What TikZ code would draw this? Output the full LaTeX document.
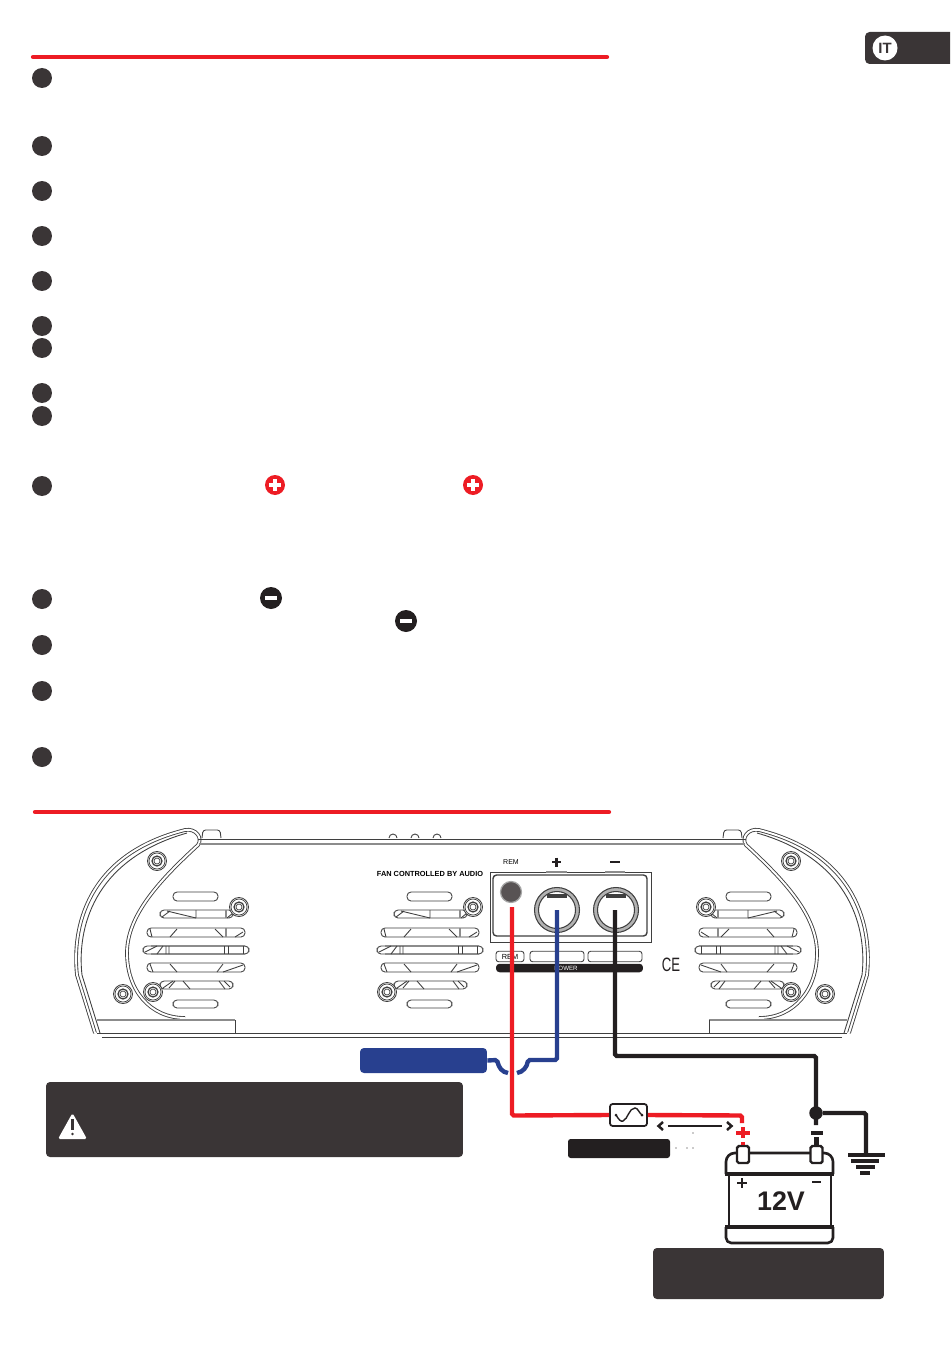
\documentclass[tikz,border=0pt]{standalone}
\usepackage{fontspec}
\setmainfont{Liberation Sans}
\usepackage{tikz}
\definecolor{ampred}{HTML}{ED1C24}
\definecolor{ampblue}{HTML}{28408F}
\definecolor{ampdark}{HTML}{3A3536}
\definecolor{ampblack}{HTML}{231F20}
\definecolor{ampline}{HTML}{3F3F3F}
\tikzset{
  bullet/.style={circle,fill=ampdark,minimum size=0.4cm,inner sep=0pt},
  plusmark/.style={circle,fill=ampred,minimum size=0.4cm,inner sep=0pt},
  minusmark/.style={circle,fill=ampblack,minimum size=0.44cm,inner sep=0pt},
  markbar/.style={white,line width=1.8pt},
  rule/.style={ampred,line width=2.4pt,line cap=round},
  hull/.style={ampline,line width=0.5pt},
  hullgray/.style={black!45,line width=0.9pt},
  darkbox/.style={fill=ampdark,rounded corners=2.2pt,inner sep=0pt},
  blackbox/.style={fill=ampblack,rounded corners=1.5pt,inner sep=0pt},
  labelbox/.style={draw=ampline,line width=0.5pt,rounded corners=1.5pt,inner sep=0pt,minimum height=0.21cm},
  socket/.style={circle,fill=black!30,draw=ampline,line width=0.6pt,minimum size=0.9cm,inner sep=0pt},
  redwire/.style={ampred,line width=2.5pt,rounded corners=1pt},
  bluewire/.style={ampblue,line width=2.5pt,rounded corners=1pt},
  blackwire/.style={ampblack,line width=2.5pt,rounded corners=1pt},
  batt/.style={ampblack,line width=1.5pt,line join=round},
  terminal/.style={draw=ampblack,fill=white,line width=1.4pt,rounded corners=1pt,minimum width=0.24cm,minimum height=0.34cm,inner sep=0pt},
  gndbar/.style={fill=ampblack,minimum height=0.07cm,inner sep=0pt},
  pics/screw/.style={code={
    \draw [ampline,line width=0.5pt,fill=white] (0,0) circle (9.5);
    \draw [ampline,line width=0.4pt] (0,0) circle (8);
    \draw [ampline,line width=0.7pt] (0,0) circle (5);
    \draw [ampline,line width=0.4pt] (0,0) circle (3);
  }},
  pics/ventgroup/.style={code={
    \draw [hull,rounded corners=2.3pt] (-23,58) rectangle (22,49);
    \draw [hull,rounded corners=2.3pt] (-36,40) rectangle (37,32);
    \draw [hull,rounded corners=2.3pt] (-49,22) rectangle (49,13);
    \draw [hull,rounded corners=2.3pt] (-53,4) rectangle (53,-4);
    \draw [hullgray] (-45,4) -- (49,4);
    \draw [hullgray] (-45,-4) -- (49,-4);
    \draw [hull,rounded corners=2.3pt] (-49,-13) rectangle (49,-22);
    \draw [hull,rounded corners=2.3pt] (-36,-31) rectangle (37,-39);
    \draw [hull,rounded corners=2.3pt] (-23,-50) rectangle (22,-58);
    \draw [hull] (-34,33) -- (-26,39) (-29,39) -- (0,32) (0,40) -- (0,32) (31,32) -- (37,37);
    \draw [hullgray] (30,40) -- (30,32);
    \draw [hull] (-46,21) -- (-44,13) (-26,13) -- (-19,21) (19,21) -- (27,13) (39,13) -- (47,18);
    \draw [hullgray] (30,22) -- (30,13);
    \draw [hull] (-51,-2) -- (-39,4) (-39,-4) -- (-33,4) (-30,4) -- (-30,-4) (-27,4) -- (-27,-4);
    \draw [hull] (28,4) -- (28,-4) (32,4) -- (32,-4) (47,4) -- (47,-4);
    \draw [hull] (-46,-14) -- (-43,-22) (-26,-14) -- (-19,-22) (21,-22) -- (27,-14) (27,-22) -- (47,-15);
    \draw [hull] (-33,-38) -- (-23,-31) (-21,-31) -- (-27,-38) (-13,-31) -- (-6,-39) (23,-31) -- (29,-39) (28,-31) -- (34,-37);
  }},
  pics/hullend/.style={code={
    \draw [hull] (100,-1033) -- (82,-975) .. controls (77,-930) and (92,-860) .. (187,-833);
    \draw [ampline,line width=0.5pt,double=white,double distance=1.1pt] (95,-1033) -- (77,-975) .. controls (72,-930) and (85,-855) .. (185,-830) .. controls (196,-828) and (203,-838) .. (198,-845) .. controls (160,-880) and (127,-915) .. (127,-953) .. controls (127,-990) and (150,-1018) .. (185,-1018);
    \draw [hullgray] (97,-1020) -- (235,-1020);
    \draw [hull] (235,-1020) -- (235,-1033);
    \draw [hull] (97,-1033) -- (472,-1033);
    \draw [hull] (102,-1037) -- (472,-1037);
    \draw [hull] (198,-839) -- (472,-839);
    \draw [hullgray] (199,-844) -- (472,-844);
    \draw [hull,fill=white,rounded corners=1.5pt] (202,-838) -- (203,-830) -- (220,-830) -- (221,-838);
  }},
}
\begin{document}
\begin{tikzpicture}[x=0.02cm,y=0.02cm]
\useasboundingbox (0,0) rectangle (950,-1348);
% language tab
\fill [ampdark,rounded corners=2.6pt] (950,-32) -- (865,-32) -- (865,-64) -- (950,-64);
\node [circle,fill=white,minimum size=0.5cm,inner sep=0pt,font=\bfseries\fontsize{8.5}{8.5}\selectfont,text=ampdark] (itbadge) at (885,-48) {IT};
% rules
\draw [rule] (33,-57) -- (607,-57);
\draw [rule] (35,-812) -- (609,-812);
% list bullets
\node [bullet] (bulleta) at (42,-78) {};
\node [bullet] (bulletb) at (42,-146) {};
\node [bullet] (bulletc) at (42,-191) {};
\node [bullet] (bulletd) at (42,-236) {};
\node [bullet] (bullete) at (42,-281) {};
\node [bullet] (bulletf) at (42,-326) {};
\node [bullet] (bulletg) at (42,-348) {};
\node [bullet] (bulleth) at (42,-393) {};
\node [bullet] (bulleti) at (42,-416) {};
\node [bullet] (bulletj) at (42,-486) {};
\node [bullet] (bulletk) at (42,-599) {};
\node [bullet] (bulletl) at (42,-645) {};
\node [bullet] (bulletm) at (42,-691) {};
\node [bullet] (bulletn) at (42,-757) {};
% polarity marks
\node [plusmark] (plusa) at (275,-485) {};
\draw [markbar] (269,-485) -- (281,-485);
\draw [markbar] (275,-479) -- (275,-491);
\node [plusmark] (plusb) at (473,-485) {};
\draw [markbar] (467,-485) -- (479,-485);
\draw [markbar] (473,-479) -- (473,-491);
\node [minusmark] (minusa) at (271,-598) {};
\draw [markbar] (265,-598) -- (277,-598);
\node [minusmark] (minusb) at (406,-621) {};
\draw [markbar] (400,-621) -- (412,-621);
% amplifier
\pic at (0,0) {hullend};
\pic [xscale=-1] at (944,0) {hullend};
\draw [hull] (389,-838) arc (180:0:4);
\draw [hull] (411,-838) arc (180:0:4);
\draw [hull] (433,-838) arc (180:0:4);
\pic at (196,-950) {ventgroup};
\pic at (430,-950) {ventgroup};
\pic [xscale=-1] at (748,-950) {ventgroup};
\pic at (157,-861) {screw};
\pic at (239,-907) {screw};
\pic at (153,-992) {screw};
\pic at (123,-994) {screw};
\pic at (473,-907) {screw};
\pic at (387,-992) {screw};
\pic at (706,-907) {screw};
\pic at (791,-861) {screw};
\pic at (791,-992) {screw};
\pic at (825,-994) {screw};
% connector panel
\node [font=\bfseries\fontsize{4.2}{4.2}\selectfont] (fanlabel) at (430,-874) {FAN CONTROLLED BY AUDIO};
\node [font=\fontsize{4}{4}\selectfont] (remtop) at (511,-862) {REM};
\draw [ampblack,line width=1.4pt] (552,-862) -- (561,-862);
\draw [ampblack,line width=1.4pt] (556.5,-857.5) -- (556.5,-866.5);
\draw [ampblack,line width=1.4pt] (610,-862) -- (620,-862);
\draw [hull] (490,-872) rectangle (651,-942);
\draw [ampline,line width=0.8pt,rounded corners=2pt] (493,-875) rectangle (647,-936);
\draw [hullgray] (546,-872) -- (567,-872);
\draw [hullgray] (605,-872) -- (625,-872);
\node [circle,fill=ampdark!85,draw=black!35,line width=0.7pt,minimum size=0.42cm,inner sep=0pt] (remjack) at (511,-892) {};
\node [socket] (posplug) at (557,-910) {};
\draw [ampline,fill=white,line width=0.6pt] (posplug) circle (18.5);
\node [socket] (negplug) at (616,-910) {};
\draw [ampline,fill=white,line width=0.6pt] (negplug) circle (18.5);
\fill [ampline] (547,-894) rectangle (567,-898);
\fill [ampline] (606,-894) rectangle (626,-898);
\node [labelbox,minimum width=0.56cm,font=\fontsize{4.2}{4.2}\selectfont] (remtag) at (510,-956.5) {REM};
\node [labelbox,minimum width=1.08cm] (postag) at (557,-956.5) {};
\node [labelbox,minimum width=1.08cm] (negtag) at (615,-956.5) {};
\node [blackbox,rounded corners=2pt,minimum width=2.94cm,minimum height=0.17cm,inner sep=0pt] (powerbar) at (569.5,-968) {};
\node [text=white,font=\fontsize{3.5}{3.5}\selectfont,inner sep=0pt] (powertext) at (566,-968.5) {POWER};
\node [font=\fontsize{11}{11}\selectfont,text=ampblack,inner sep=0pt] (celogo) at (671,-965) {\scalebox{0.68}[1]{CE}};
% wire anchors
\coordinate (remend) at (512,-907);
\coordinate (posend) at (557,-910);
\coordinate (negend) at (615,-910);
\coordinate (blackbend) at (615,-1056);
\coordinate (gndtop) at (816,-1056);
\coordinate (redbend) at (512,-1115.5);
\coordinate (hopl) at (497,-1060);
\coordinate (hopr) at (528,-1060);
\coordinate (bluebend) at (557,-1060);
\coordinate (redcorner) at (742,-1115.5);
\coordinate (posdrop) at (742,-1123);
\coordinate (negdrop) at (816,-1125);
\coordinate (gndbend) at (866,-1113);
\coordinate (gndfoot) at (866,-1155);
% boxes
\node [darkbox,fill=ampblue,minimum width=2.54cm,minimum height=0.5cm] (bluebox) at (423.5,-1060.5) {};
\node [darkbox,minimum width=8.34cm,minimum height=1.5cm] (warnbox) at (254.5,-1119.5) {};
\node [blackbox,minimum width=2.04cm,minimum height=0.38cm] (fusebox) at (619,-1148.5) {};
\node [darkbox,minimum width=4.62cm,minimum height=1.02cm] (battbox) at (768.5,-1273.5) {};
% warning sign
\fill [white,rounded corners=1pt] (72.5,-1113) -- (87,-1139) -- (58,-1139) -- cycle;
\draw [ampdark,line width=1.3pt] (72.5,-1119) -- (72.5,-1130);
\fill [ampdark] (72.5,-1134) circle (1.3);
% wires
\draw [bluewire] (bluebox.east) -- (hopl) .. controls (499,-1068) and (502,-1072) .. (508,-1073);
\draw [bluewire] (517,-1073) .. controls (523,-1072) and (527,-1067) .. (hopr) -- (bluebend) -- (posend);
\draw [blackwire] (negend) -- (blackbend) -- (gndtop) -- (negdrop);
\node [circle,fill=ampblack,minimum size=0.27cm,inner sep=0pt] (gnddot) at (816,-1113) {};
\node [draw=ampblack,fill=white,line width=1pt,rounded corners=1.5pt,minimum width=0.74cm,minimum height=0.44cm,inner sep=0pt] (fuse) at (628.5,-1115) {};
\draw [redwire] (remend) -- (redbend) -- (fuse.west);
\draw [redwire] (fuse.east) -- (redcorner) -- (posdrop);
\draw [ampblack,line width=0.8pt] (616,-1115) .. controls (619,-1120) and (621,-1122) .. (623,-1121) .. controls (628,-1119) and (629,-1108) .. (635,-1108) .. controls (638,-1108) and (639,-1113) .. (642,-1115);
\fill [ampblack] (616,-1115) circle (1.5);
\fill [ampblack] (642,-1115) circle (1.5);
% clearance arrow
\coordinate (diml) at (668,-1126);
\coordinate (dimr) at (722,-1126);
\draw [ampblack,line width=1.1pt] (diml) -- (dimr);
\draw [ampblack,line width=1.4pt] (663,-1122) -- (658.5,-1126) -- (663,-1130);
\draw [ampblack,line width=1.4pt] (727,-1122) -- (731.5,-1126) -- (727,-1130);
\fill [ampblack] (693,-1133) circle (0.7);
\fill [ampblack] (676,-1148) circle (0.7);
\fill [ampblack] (687,-1148) circle (0.7);
\fill [ampblack] (693,-1148) circle (0.7);
% battery
\draw [batt,rounded corners=5pt] (726,-1174) -- (726,-1153) -- (833,-1153) -- (833,-1174);
\draw [batt,line width=2pt] (725,-1174) -- (834,-1174);
\draw [batt] (729,-1174) -- (729,-1227);
\draw [batt] (831,-1174) -- (831,-1227);
\draw [batt,line width=2pt] (725,-1227) -- (834,-1227);
\draw [batt,rounded corners=3pt] (726,-1227) -- (726,-1243) -- (833,-1243) -- (833,-1227);
\node [terminal] (posterm) at (743,-1154.5) {};
\node [terminal] (negterm) at (816.5,-1154.5) {};
\node [font=\bfseries\fontsize{15.3}{15.3}\selectfont,text=ampblack] (voltage) at (781,-1201.5) {12V};
\draw [ampblack,line width=0.8pt] (737,-1183) -- (747,-1183);
\draw [ampblack,line width=0.8pt] (742,-1178) -- (742,-1188);
\draw [ampblack,line width=1.1pt] (812,-1182) -- (821,-1182);
% polarity at the clamps
\node [minimum width=0.28cm,minimum height=0.08cm,fill=ampred,inner sep=0pt] (posbar) at (743,-1133) {};
\draw [ampred,line width=2.3pt] (743,-1127) -- (743,-1138);
\draw [redwire] (743,-1142) -- (posterm.north);
\node [minimum width=0.24cm,minimum height=0.08cm,fill=ampblack,inner sep=0pt] (negbar) at (817,-1133) {};
\draw [blackwire] (816.5,-1137) -- (negterm.north);
% ground
\draw [blackwire] (gnddot) -- (gndbend) -- (gndfoot);
\node [gndbar,minimum width=0.74cm] (gnda) at (866,-1155) {};
\node [gndbar,minimum width=0.56cm] (gndb) at (865,-1161) {};
\node [gndbar,minimum width=0.38cm] (gndc) at (865,-1167) {};
\node [gndbar,minimum width=0.2cm] (gndd) at (865,-1173) {};
\end{tikzpicture}
\end{document}
